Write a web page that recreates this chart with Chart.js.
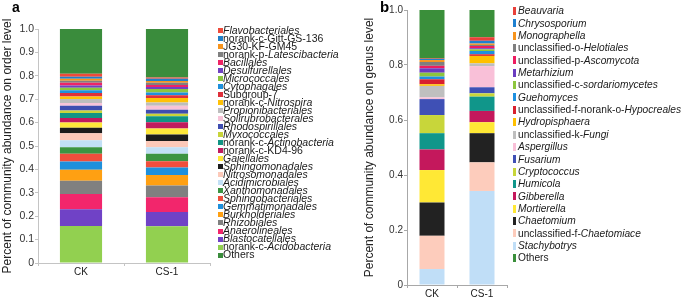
<!DOCTYPE html>
<html>
<head>
<meta charset="utf-8">
<script src="https://cdn.jsdelivr.net/npm/chart.js@4"></script>
<style>
  body { margin: 0; background: #fff; }
  #wrap { position: relative; width: 685px; height: 301px; }
  canvas { position: absolute; top: 0; }
  #orderChart { left: 0; }
  #genusChart { left: 340px; }
</style>
</head>
<body>
<div id="wrap">
  <canvas id="orderChart" width="340" height="301"></canvas>
  <canvas id="genusChart" width="345" height="301"></canvas>
</div>
<script>
// Samples on the x axis
const samples = ['CK', 'CS-1'];

// Panel a: order level, listed as in the legend (top to bottom); *...* = italic
const orderNames = [
  '*Flavobacteriales*', 'norank-c-Gitt-GS-136', 'JG30-KF-GM45', 'norank-p-*Latescibacteria*',
  '*Bacillales*', '*Desulfurellales*', '*Micrococcales*', '*Cytophagales*', 'Subgroup-7',
  'norank-c-*Nitrospira*', '*Propionibacteriales*', '*Solirubrobacterales*', '*Rhodospirillales*',
  '*Myxococcales*', 'norank-c-*Actinobacteria*', 'norank-c-KD4-96', '*Gaiellales*',
  '*Sphingomonadales*', '*Nitrosomonadales*', '*Acidimicrobiales*', '*Xanthomonadales*',
  '*Sphingobacteriales*', '*Gemmatimonadales*', '*Burkholderiales*', '*Rhizobiales*',
  '*Anaerolineales*', '*Blastocatellales*', 'norank-c-*Acidobacteria*', 'Others'
];
const orderCK = [
  0.013, 0.009, 0.008, 0.009, 0.011, 0.010, 0.011, 0.011, 0.015, 0.011, 0.017, 0.012, 0.020,
  0.011, 0.021, 0.020, 0.022, 0.024, 0.029, 0.030, 0.028, 0.033, 0.036, 0.047, 0.056,
  0.065, 0.072, 0.158, 0.191
];
const orderCS1 = [
  0.006, 0.009, 0.008, 0.009, 0.009, 0.008, 0.015, 0.012, 0.012, 0.019, 0.014, 0.017, 0.017,
  0.011, 0.025, 0.027, 0.026, 0.028, 0.026, 0.028, 0.032, 0.027, 0.032, 0.045, 0.050,
  0.063, 0.061, 0.157, 0.207
];
const orderColors = [
  '#ee4b3b', '#2080c8', '#f7941d', '#808080', '#ee2466', '#6f42c1', '#8dc63f', '#1e90dc',
  '#de2f3a', '#ffc107', '#bdbdbd', '#f8c3d8', '#3f4db0', '#c8d43a', '#109484', '#c01a5e',
  '#ffe83a', '#1c1c1c', '#fcc9b9', '#c2e0f6', '#3c9442', '#f04e3c', '#1e90dc', '#ffa012',
  '#808080', '#f2266c', '#7042c6', '#92d050', '#3a8c3c'
];

// Panel b: genus level, legend order
const genusNames = [
  '*Beauvaria*', '*Chrysosporium*', '*Monographella*', 'unclassified-o-*Helotiales*',
  'unclassified-p-*Ascomycota*', '*Metarhizium*', 'unclassified-c-*sordariomycetes*',
  '*Guehomyces*', 'unclassified-f-norank-o-*Hypocreales*', '*Hydropisphaera*',
  'unclassified-k-*Fungi*', '*Aspergillus*', '*Fusarium*', '*Cryptococcus*', '*Humicola*',
  '*Gibberella*', '*Mortierella*', '*Chaetomium*', 'unclassified-f-*Chaetomiace*',
  '*Stachybotrys*', 'Others'
];
const genusCK = [
  0.002, 0.004, 0.007, 0.014, 0.009, 0.016, 0.014, 0.010, 0.018, 0.006, 0.042,
  0.006, 0.058, 0.066, 0.059, 0.075, 0.118, 0.121, 0.121, 0.058, 0.176
];
const genusCS1 = [
  0.013, 0.010, 0.005, 0.004, 0.008, 0.004, 0.006, 0.012, 0.006, 0.027, 0.010,
  0.077, 0.022, 0.012, 0.052, 0.041, 0.040, 0.106, 0.104, 0.342, 0.099
];
const genusColors = [
  '#e8403a', '#1e80d0', '#f7941d', '#7f7f7f', '#ee1c60', '#6a3cc0', '#8dc63f', '#1e90e0',
  '#d8202e', '#ffc000', '#bfbfbf', '#f9c0d8', '#3f50b5', '#c8d63a', '#10968a', '#c4185c',
  '#ffe835', '#222222', '#fdccbc', '#c0def7', '#3a8f3a'
];

const FONT = '"Liberation Sans", Arial, sans-serif';

// draws the panel letter and the one-column legend with mixed italics
const sideLegend = {
  id: 'sideLegend',
  afterDraw(chart, args, o) {
    const ctx = chart.ctx;
    ctx.save();
    ctx.fillStyle = '#000';
    ctx.textAlign = 'left';
    ctx.textBaseline = 'alphabetic';
    ctx.font = 'bold ' + o.letterSize + 'px ' + FONT;
    ctx.fillText(o.letter, o.letterX, o.letterY);

    ctx.textBaseline = 'middle';
    const items = chart.data.datasets.slice().sort((a, b) => a.legendIndex - b.legendIndex);
    items.forEach((ds, i) => {
      const y = o.y + i * o.step;
      ctx.fillStyle = ds.backgroundColor;
      ctx.fillRect(o.boxX, Math.round(y - o.boxH / 2), o.boxW, o.boxH);
      let x = o.textX;
      ds.label.split('*').forEach((part, k) => {
        if (!part) return;
        ctx.font = (k % 2 ? 'italic ' : '') + o.fontSize + 'px ' + FONT;
        ctx.fillStyle = '#1a1a1a';
        ctx.fillText(part, x, y + 0.5);
        x += ctx.measureText(part).width;
      });
    });
    ctx.restore();
  }
};

function stackedDatasets(names, ck, cs1, colors) {
  const sets = names.map((name, i) => ({
    label: name,
    data: [ck[i], cs1[i]],
    backgroundColor: colors[i],
    legendIndex: i
  }));
  // bars stack in reverse legend order, with Others kept on top
  return sets.slice(0, -1).reverse().concat(sets[sets.length - 1]);
}

function drawPanel(id, datasets, p) {
  return new Chart(document.getElementById(id), {
    type: 'bar',
    data: { labels: samples, datasets: datasets },
    options: {
      responsive: false,
      animation: false,
      layout: { padding: { left: 0, top: p.top, right: p.right, bottom: 0 } },
      datasets: {
        bar: { barPercentage: 1, categoryPercentage: p.barFrac, borderWidth: 0 }
      },
      plugins: {
        legend: { display: false },
        tooltip: { enabled: false },
        sideLegend: p.legend
      },
      scales: {
        x: {
          stacked: true,
          offset: true,
          grid: { display: true, drawOnChartArea: false, offset: true, tickLength: 3, color: p.axisColor },
          border: { color: p.axisColor },
          ticks: { padding: 0, color: '#1a1a1a', font: { family: FONT, size: 10 } },
          afterFit: s => { s.height = p.xHeight; }
        },
        y: {
          stacked: true,
          min: 0,
          max: 1,
          grid: { display: true, drawOnChartArea: false, tickLength: 3, color: p.axisColor },
          border: { color: p.axisColor },
          ticks: {
            stepSize: p.step,
            padding: 1,
            color: '#333',
            font: { family: FONT, size: p.tickSize },
            callback: v => (v === 0 ? '0' : v.toFixed(1))
          },
          title: {
            display: true,
            text: p.title,
            color: '#222',
            font: { family: FONT, size: 12 },
            padding: { top: p.titlePad, bottom: 0 }
          },
          afterFit: s => { s.width = p.yWidth; }
        }
      }
    },
    plugins: [sideLegend]
  });
}

drawPanel('orderChart', stackedDatasets(orderNames, orderCK, orderCS1, orderColors), {
  top: 29, right: 130, barFrac: 0.49, axisColor: '#c4c4c4', xHeight: 38, yWidth: 38,
  step: 0.1, tickSize: 10.5, titlePad: 0,
  title: 'Percent of community abundance on order level',
  legend: {
    letter: 'a', letterX: 12, letterY: 12, letterSize: 14,
    boxX: 218, boxW: 5, boxH: 5, textX: 223, y: 30.5, step: 8.02, fontSize: 10.5
  }
});

drawPanel('genusChart', stackedDatasets(genusNames, genusCK, genusCS1, genusColors), {
  top: 10, right: 178, barFrac: 0.5, axisColor: '#a8a8a8', xHeight: 16, yWidth: 67,
  step: 0.2, tickSize: 10, titlePad: 22,
  title: 'Percent of community abundance on genus level',
  legend: {
    letter: 'b', letterX: 40, letterY: 12, letterSize: 15,
    boxX: 173, boxW: 3, boxH: 8, textX: 178, y: 11, step: 12.35, fontSize: 10.2
  }
});
</script>
</body>
</html>
